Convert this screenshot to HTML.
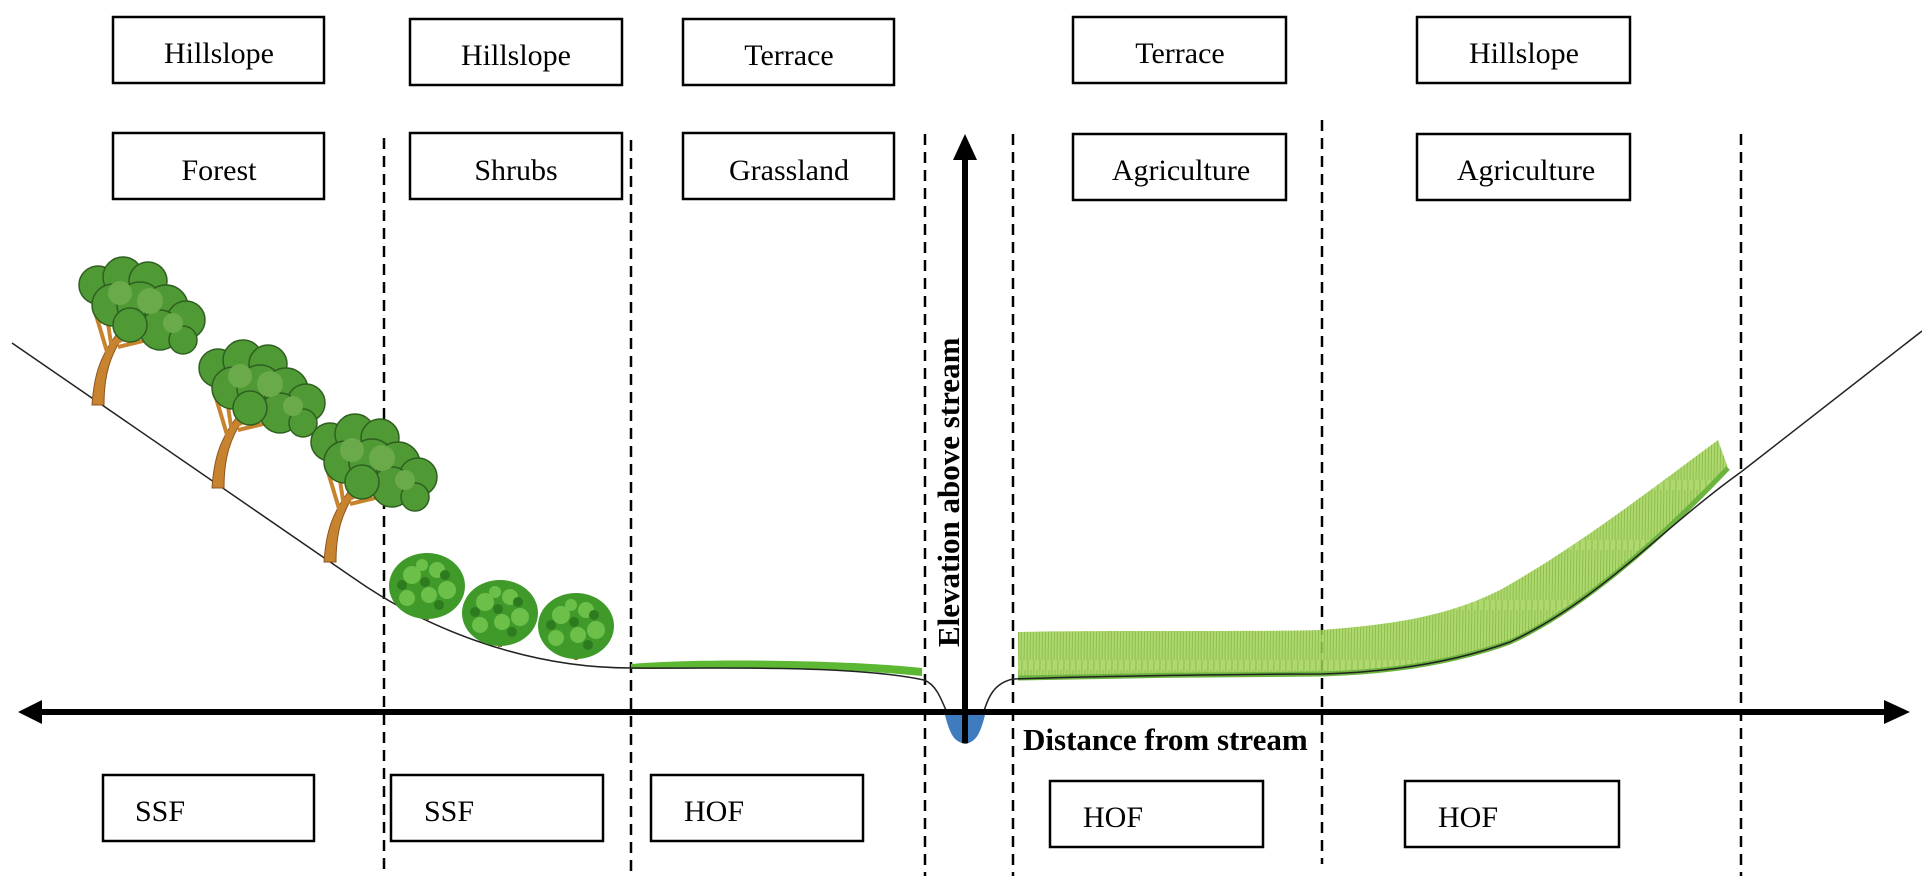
<!DOCTYPE html>
<html><head><meta charset="utf-8"><style>
html,body{margin:0;padding:0;background:#fff;}
svg{display:block;}
text{font-family:"Liberation Serif",serif;}
</style></head><body>
<svg width="1922" height="880" viewBox="0 0 1922 880" xmlns="http://www.w3.org/2000/svg">
<defs>
<pattern id="grass" width="6" height="60" patternUnits="userSpaceOnUse">
  <rect width="6" height="60" fill="#a6d45e"/>
  <path d="M1,60 L2,0 M4,60 L5,10" stroke="#7fb83a" stroke-width="1"/>
</pattern>
<g id="tree">
  <path d="M-6,0 C-4,-30 2,-50 22,-75 L30,-82 L26,-70 C12,-50 6,-30 6,0 Z" fill="#c8832f" stroke="#8a5520" stroke-width="1"/>
  <path d="M10,-50 L-2,-90 M14,-55 L8,-95 M18,-62 L50,-80 M20,-58 L70,-70" stroke="#c8832f" stroke-width="4" fill="none"/>
  <g fill="#4f9a35" stroke="#2f5f20" stroke-width="1.5">
    <circle cx="0" cy="-120" r="19"/>
    <circle cx="25" cy="-128" r="20"/>
    <circle cx="50" cy="-124" r="19"/>
    <circle cx="15" cy="-100" r="21"/>
    <circle cx="42" cy="-100" r="23"/>
    <circle cx="68" cy="-98" r="22"/>
    <circle cx="88" cy="-85" r="19"/>
    <circle cx="62" cy="-75" r="20"/>
    <circle cx="32" cy="-80" r="17"/>
    <circle cx="85" cy="-65" r="14"/>
  </g>
  <circle cx="22" cy="-112" r="12" fill="#6aaa4a"/>
  <circle cx="52" cy="-104" r="13" fill="#6aaa4a"/>
  <circle cx="75" cy="-82" r="10" fill="#6aaa4a"/>
</g>
<g id="shrub">
  <path d="M-2,0 L0,-18 L2,0 Z" fill="#8a6a30"/>
  <ellipse cx="0" cy="-34" rx="38" ry="33" fill="#3f9a2a"/>
  <g fill="#6cc04a">
    <circle cx="-15" cy="-45" r="9"/><circle cx="10" cy="-50" r="8"/><circle cx="20" cy="-30" r="9"/>
    <circle cx="-20" cy="-22" r="8"/><circle cx="2" cy="-25" r="8"/><circle cx="-5" cy="-55" r="6"/>
  </g>
  <g fill="#2e7a1e">
    <circle cx="-2" cy="-38" r="5"/><circle cx="18" cy="-45" r="5"/><circle cx="-25" cy="-35" r="5"/><circle cx="12" cy="-15" r="5"/>
  </g>
</g>
</defs>

<g fill="none" stroke="#000" stroke-width="2.5">
  <rect x="113" y="17" width="211" height="66"/>
  <rect x="410" y="19" width="212" height="66"/>
  <rect x="683" y="19" width="211" height="66"/>
  <rect x="1073" y="17" width="213" height="66"/>
  <rect x="1417" y="17" width="213" height="66"/>
  <rect x="113" y="133" width="211" height="66"/>
  <rect x="410" y="133" width="212" height="66"/>
  <rect x="683" y="133" width="211" height="66"/>
  <rect x="1073" y="134" width="213" height="66"/>
  <rect x="1417" y="134" width="213" height="66"/>
  <rect x="103" y="775" width="211" height="66"/>
  <rect x="391" y="775" width="212" height="66"/>
  <rect x="651" y="775" width="212" height="66"/>
  <rect x="1050" y="781" width="213" height="66"/>
  <rect x="1405" y="781" width="214" height="66"/>
</g>
<g font-size="30" text-anchor="middle" fill="#000">
  <text x="219" y="63">Hillslope</text>
  <text x="516" y="65">Hillslope</text>
  <text x="789" y="65">Terrace</text>
  <text x="1180" y="63">Terrace</text>
  <text x="1524" y="63">Hillslope</text>
  <text x="219" y="180">Forest</text>
  <text x="516" y="180">Shrubs</text>
  <text x="789" y="180">Grassland</text>
  <text x="1181" y="180">Agriculture</text>
  <text x="1526" y="180">Agriculture</text>
</g>
<g font-size="30" fill="#000">
  <text x="135" y="821">SSF</text>
  <text x="424" y="821">SSF</text>
  <text x="684" y="821">HOF</text>
  <text x="1083" y="827">HOF</text>
  <text x="1438" y="827">HOF</text>
</g>

<g stroke="#000" stroke-width="2.5" stroke-dasharray="11,7">
  <line x1="384" y1="138" x2="384" y2="876"/>
  <line x1="631" y1="140" x2="631" y2="876"/>
  <line x1="925" y1="134" x2="925" y2="876"/>
  <line x1="1013" y1="134" x2="1013" y2="876"/>
  <line x1="1322" y1="120" x2="1322" y2="864"/>
  <line x1="1741" y1="134" x2="1741" y2="876"/>
</g>

<path d="M1018,678 C1100,676 1250,674 1322,674 C1400,672 1460,660 1510,642 C1580,610 1660,540 1728,468 L1718,440 C1650,490 1580,545 1500,590 C1440,620 1380,625 1322,630 C1250,632 1100,630 1018,632 Z" fill="url(#grass)" opacity="0.9"/>
<path d="M1018,678 C1100,676 1250,674 1322,674 C1400,672 1460,660 1510,642 C1580,610 1660,540 1728,468" stroke="#6db33f" stroke-width="5" fill="none"/>
<path d="M631,669 C700,669 800,664 922,676 L922,668 C850,660 700,658 631,664 Z" fill="#5cb832"/>

<path d="M12,343 L352,577 C420,625 520,668 631,668 C700,669 850,664 924,680 C935,684 940,695 950,720 C955,738 960,743 965,743 C972,743 978,735 982,718 C988,695 995,683 1013,679 C1100,676 1250,674 1322,674 C1400,672 1460,660 1510,642 C1600,600 1660,530 1741,472 L1922,331" fill="none" stroke="#222" stroke-width="1.5"/>
<path d="M945,715 L985,715 C980,735 975,743 965,743 C955,743 950,735 945,715 Z" fill="#3e7bbf"/>

<use href="#tree" x="98" y="405"/>
<use href="#tree" x="218" y="488"/>
<use href="#tree" x="330" y="562"/>
<use href="#shrub" x="427" y="620"/>
<use href="#shrub" x="500" y="647"/>
<use href="#shrub" x="576" y="660"/>

<line x1="30" y1="712" x2="1890" y2="712" stroke="#000" stroke-width="6"/>
<polygon points="18,712 42,700 42,724" fill="#000"/>
<polygon points="1910,712 1884,700 1884,724" fill="#000"/>
<line x1="965" y1="155" x2="965" y2="743" stroke="#000" stroke-width="6"/>
<polygon points="965,134 953,160 977,160" fill="#000"/>

<text x="1023" y="750" font-size="31" font-weight="bold">Distance from stream</text>
<text transform="translate(959,647) rotate(-90)" font-size="31" font-weight="bold">Elevation above stream</text>
</svg>
</body></html>
